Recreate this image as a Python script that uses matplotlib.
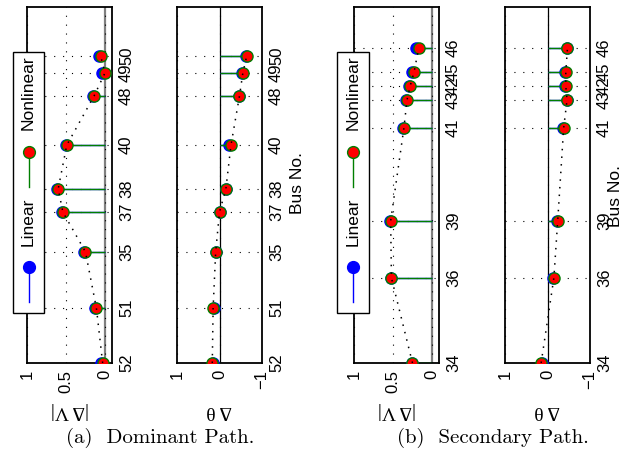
import matplotlib.pyplot as plt
from matplotlib.lines import Line2D
from matplotlib.patches import Rectangle

# dominant path (buses ordered along the path, positions = distance along it)
dom_buses = ['52', '51', '35', '37', '38', '40', '48', '49', '50']
dom_pos = [0.0, 1.54, 3.12, 4.24, 4.89, 6.12, 7.50, 8.15, 8.62]
dom_dv_lin = [0.055, 0.13, 0.27, 0.55, 0.61, 0.50, 0.16, 0.035, 0.08]
dom_dv_non = [0.03, 0.11, 0.25, 0.54, 0.60, 0.49, 0.14, 0.0, 0.055]
dom_dth_lin = [0.15, 0.12, 0.075, 0.0, -0.15, -0.22, -0.46, -0.54, -0.63]
dom_dth_non = [0.17, 0.15, 0.09, 0.0, -0.15, -0.27, -0.47, -0.55, -0.64]

# secondary path
sec_buses = ['34', '36', '39', '41', '43', '42', '45', '46']
sec_pos = [0.0, 2.39, 3.99, 6.60, 7.39, 7.78, 8.17, 8.85]
sec_dv_lin = [0.26, 0.53, 0.54, 0.37, 0.33, 0.29, 0.25, 0.20]
sec_dv_non = [0.25, 0.52, 0.53, 0.36, 0.32, 0.28, 0.23, 0.17]
sec_dth_lin = [0.14, -0.14, -0.22, -0.36, -0.45, -0.42, -0.42, -0.46]
sec_dth_non = [0.15, -0.15, -0.24, -0.38, -0.46, -0.43, -0.43, -0.47]

plt.rcParams['font.family'] = ['Liberation Sans', 'DejaVu Sans']

W, H = 632, 458
fig = plt.figure(figsize=(W / 100, H / 100), dpi=100)


def px(x, y):
    return x / W, 1 - y / H


def draw_panel(left, pos, lin, non, buses, xlim, xticks, xlabels, zero_color, zero_lw):
    ax = fig.add_axes([left / W, 95 / H, 85 / W, 356 / H])
    ax.set_xlim(xlim)
    ax.set_ylim(0, 10)
    ax.axvline(0, color=zero_color, lw=zero_lw, zorder=1)

    m, s, b = ax.stem(pos, lin, orientation='horizontal')
    b.set_visible(False)
    s.set_color('blue')
    s.set_linewidth(1.0)
    s.set_zorder(2)
    m.set_markerfacecolor('blue')
    m.set_markeredgecolor('blue')
    m.set_markersize(8)
    m.set_zorder(3)

    m, s, b = ax.stem(pos, non, orientation='horizontal')
    b.set_visible(False)
    s.set_color('#007f00')
    s.set_linewidth(1.0)
    s.set_zorder(4)
    m.set_markerfacecolor('red')
    m.set_markeredgecolor('#007f00')
    m.set_markeredgewidth(1.0)
    m.set_markersize(8)
    m.set_zorder(5)

    ax.plot(non, pos, color='k', lw=1.1, ls=(0, (1, 4)), zorder=6)

    ax.set_xticks(xticks, xlabels)
    ax.yaxis.tick_right()
    ax.set_yticks(pos, buses)
    ax.tick_params(axis='x', labelrotation=90, length=0, pad=5, labelsize=12)
    ax.tick_params(axis='y', labelrotation=90, length=0, pad=5, labelsize=12)
    for lab in ax.get_yticklabels():
        lab.set_va('center')
    ax.grid(True, color='k', lw=0.8, ls=(0, (1, 7)))
    for sp in ax.spines.values():
        sp.set_linewidth(1.3)
    return ax


def draw_legend(ax, xc):
    kw = dict(transform=ax.transAxes, clip_on=False)
    ax.add_patch(Rectangle((xc - 0.183, 0.14), 0.366, 0.734, facecolor='white',
                           edgecolor='k', lw=1.0, zorder=10, **kw))
    ax.text(xc, 0.76, 'Nonlinear', rotation=90, ha='center', va='center',
            fontsize=12.5, zorder=11, **kw)
    ax.add_line(Line2D([xc, xc], [0.494, 0.593], color='#007f00', lw=1.0, zorder=11, **kw))
    ax.add_line(Line2D([xc], [0.593], marker='o', ms=8.5, mfc='red', mec='#007f00',
                       zorder=12, **kw))
    ax.text(xc, 0.396, 'Linear', rotation=90, ha='center', va='center',
            fontsize=12.5, zorder=11, **kw)
    ax.add_line(Line2D([xc, xc], [0.171, 0.27], color='blue', lw=1.0, zorder=11, **kw))
    ax.add_line(Line2D([xc], [0.27], marker='o', ms=8.5, mfc='blue', mec='blue',
                       zorder=12, **kw))


ax1 = draw_panel(27, dom_pos, dom_dv_lin, dom_dv_non, dom_buses, (1, -0.09),
                 [1, 0.5, 0], ['1', '0.5', '0'], '#808080', 1.6)
ax2 = draw_panel(177, dom_pos, dom_dth_lin, dom_dth_non, dom_buses, (1, -1),
                 [1, 0, -1], ['1', '0', '\u22121'], 'k', 0.9)
ax3 = draw_panel(354, sec_pos, sec_dv_lin, sec_dv_non, sec_buses, (1, -0.09),
                 [1, 0.5, 0], ['1', '0.5', '0'], '#808080', 1.6)
ax4 = draw_panel(505, sec_pos, sec_dth_lin, sec_dth_non, sec_buses, (1, -1),
                 [1, 0, -1], ['1', '0', '\u22121'], 'k', 0.9)

draw_legend(ax1, 0.018)
draw_legend(ax3, -0.012)

serif = ['Liberation Serif', 'DejaVu Serif']
for x, lab in [(69.5, '|\u0394 V|'), (219.5, '\u0394 \u03b8'), (396.5, '|\u0394 V|'), (547.5, '\u0394 \u03b8')]:
    fig.text(*px(x, 410), lab, rotation=180, ha='center', va='center', fontsize=14, family=serif)

fig.text(*px(298, 183), 'Bus No.', rotation=90, ha='center', va='center', fontsize=12.5)
fig.text(*px(616, 196), 'Bus No.', rotation=90, ha='center', va='center', fontsize=12.5)

fig.text(*px(160, 438), '(a)  Dominant Path.', ha='center', va='center', fontsize=15, family='cmr10')
fig.text(*px(493, 438), '(b)  Secondary Path.', ha='center', va='center', fontsize=15, family='cmr10')

plt.savefig('out.png', dpi=100)
